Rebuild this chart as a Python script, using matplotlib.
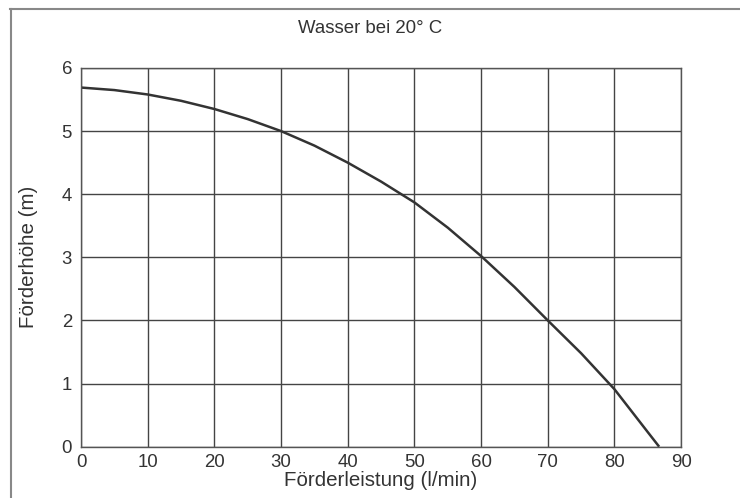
import matplotlib.pyplot as plt
from matplotlib.lines import Line2D

plt.rcParams['font.family'] = ['Liberation Sans', 'DejaVu Sans']

# curve
flow = [0, 5, 10, 15, 20, 25, 30, 35, 40, 45, 50, 55, 60, 65, 70, 75, 80, 85, 86.7]
head = [5.69, 5.65, 5.58, 5.48, 5.35, 5.19, 5.0, 4.77, 4.5, 4.2, 3.87, 3.47,
        3.02, 2.53, 2.0, 1.48, 0.91, 0.23, 0]

xticks = list(range(0, 91, 10))
yticks = list(range(0, 7))

fig = plt.figure(figsize=(7.4, 4.98), dpi=100)
ax = fig.add_axes([0.1095, 0.103, 0.811, 0.7605])

ax.plot(flow, head, color='#333333', lw=1.8, solid_capstyle='butt',
        solid_joinstyle='round')

ax.set_xlim(0, 90)
ax.set_ylim(0, 6)
ax.set_xticks(xticks)
ax.set_yticks(yticks)
ax.grid(True, color='#444444', lw=1.0)
ax.set_axisbelow(True)
for s in ax.spines.values():
    s.set_color('#555555')
    s.set_linewidth(1.0)
ax.tick_params(length=0, labelsize=13.4, colors='#333333')
ax.tick_params(axis='y', pad=6.5)
ax.tick_params(axis='x', pad=5.5)

ax.set_xlabel('Förderleistung (l/min)', fontsize=14.8, color='#333333', labelpad=0)
ax.set_ylabel('Förderhöhe (m)', fontsize=14.8, color='#333333', labelpad=17)
fig.text(0.5, 0.942, 'Wasser bei 20° C', ha='center', va='center',
         fontsize=13.4, color='#333333')

# outer frame (top and left edge only visible)
fig.add_artist(Line2D([0.0135, 1.0], [0.981, 0.981], color='#888888', lw=1.5))
fig.add_artist(Line2D([0.0142, 0.0142], [0.0, 0.981], color='#888888', lw=1.5))

plt.savefig('out.png', dpi=100)
